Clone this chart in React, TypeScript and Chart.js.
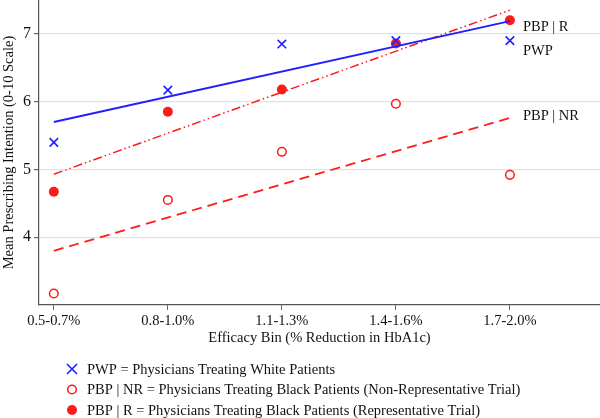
import React, { useEffect, useRef } from 'react';
import { Chart, registerables } from 'chart.js';

Chart.register(...registerables);

const bins = ['0.5-0.7%', '0.8-1.0%', '1.1-1.3%', '1.4-1.6%', '1.7-2.0%'];
const pwp = [5.4, 6.17, 6.85, 6.9, 6.9];
const pbpNR = [3.17, 4.55, 5.26, 5.97, 4.92];
const pbpR = [4.67, 5.85, 6.18, 6.86, 7.2];
// fitted line ends (first bin, last bin)
const pwpFit = [5.7, 7.19];
const pbpNRFit = [3.8, 5.76];
const pbpRFit = [4.93, 7.35];
const yTicks = [4, 5, 6, 7];
const endLabels = [
  { text: 'PBP | R', y: 7.1 },
  { text: 'PWP', y: 6.75 },
  { text: 'PBP | NR', y: 5.78 },
];

const BLUE = '#1f1fff';
const RED = '#ff1a1a';
const FONT = "'Liberation Serif', 'Times New Roman', serif";

const toPts = (vals: number[]) => vals.map((v, i) => ({ x: i, y: v }));
const fitPts = (ends: number[]) => [
  { x: 0, y: ends[0] },
  { x: bins.length - 1, y: ends[1] },
];

function drawMarker(ctx: CanvasRenderingContext2D, kind: string, x: number, y: number) {
  ctx.save();
  ctx.lineWidth = 1.6;
  if (kind === 'cross') {
    ctx.strokeStyle = BLUE;
    ctx.beginPath();
    ctx.moveTo(x - 5, y - 5);
    ctx.lineTo(x + 5, y + 5);
    ctx.moveTo(x + 5, y - 5);
    ctx.lineTo(x - 5, y + 5);
    ctx.stroke();
  } else if (kind === 'open') {
    ctx.strokeStyle = RED;
    ctx.beginPath();
    ctx.arc(x, y, 4.3, 0, Math.PI * 2);
    ctx.stroke();
  } else {
    ctx.fillStyle = RED;
    ctx.beginPath();
    ctx.arc(x, y, 5, 0, Math.PI * 2);
    ctx.fill();
  }
  ctx.restore();
}

const legendItems = [
  { kind: 'cross', text: 'PWP = Physicians Treating White Patients' },
  { kind: 'open', text: 'PBP | NR = Physicians Treating Black Patients (Non-Representative Trial)' },
  { kind: 'filled', text: 'PBP | R = Physicians Treating Black Patients (Representative Trial)' },
];

const annotations = {
  id: 'annotations',
  afterDraw(chart: any) {
    const { ctx, scales } = chart;
    const xs = scales.x;
    const ys = scales.y;
    ctx.save();
    ctx.font = `14.5px ${FONT}`;
    ctx.fillStyle = '#111';
    ctx.textBaseline = 'middle';
    ctx.textAlign = 'left';
    const lx = xs.getPixelForValue(bins.length - 1) + 13;
    endLabels.forEach((l) => ctx.fillText(l.text, lx, ys.getPixelForValue(l.y)));

    ctx.font = `14.5px ${FONT}`;
    legendItems.forEach((item, i) => {
      const y = 369 + i * 20.5;
      drawMarker(ctx, item.kind, 72, y);
      ctx.fillStyle = '#111';
      ctx.fillText(item.text, 87, y + 1);
    });
    ctx.restore();
  },
};

const noPad = (scale: any) => {
  scale.paddingTop = 0;
  scale.paddingBottom = 0;
  scale.paddingLeft = 0;
  scale.paddingRight = 0;
};

const App: React.FC = () => {
  const canvasRef = useRef<HTMLCanvasElement>(null);
  const chartRef = useRef<Chart>();

  useEffect(() => {
    if (!canvasRef.current) return;
    const ctx = canvasRef.current.getContext('2d');
    if (!ctx) return;

    chartRef.current = new Chart(ctx, {
      type: 'scatter',
      data: {
        datasets: [
          {
            label: 'PWP fit',
            data: fitPts(pwpFit),
            showLine: true,
            borderColor: BLUE,
            borderWidth: 1.8,
            pointRadius: 0,
          },
          {
            label: 'PBP | NR fit',
            data: fitPts(pbpNRFit),
            showLine: true,
            borderColor: RED,
            borderWidth: 1.8,
            borderDash: [10, 6],
            pointRadius: 0,
          },
          {
            label: 'PBP | R fit',
            data: fitPts(pbpRFit),
            showLine: true,
            borderColor: RED,
            borderWidth: 1.5,
            borderDash: [9, 3, 1.5, 3, 1.5, 3],
            pointRadius: 0,
          },
          {
            label: 'PWP',
            data: toPts(pwp),
            pointStyle: 'crossRot',
            pointRadius: 6,
            pointBorderWidth: 1.6,
            borderColor: BLUE,
            backgroundColor: BLUE,
          },
          {
            label: 'PBP | NR',
            data: toPts(pbpNR),
            pointStyle: 'circle',
            pointRadius: 4.3,
            pointBorderWidth: 1.5,
            borderColor: RED,
            backgroundColor: 'rgba(255,255,255,0)',
          },
          {
            label: 'PBP | R',
            data: toPts(pbpR),
            pointStyle: 'circle',
            pointRadius: 5,
            pointBorderWidth: 0,
            borderColor: RED,
            backgroundColor: RED,
          },
        ],
      },
      options: {
        animation: false,
        responsive: false,
        layout: { autoPadding: false, padding: { top: 0, right: 0, left: 0, bottom: 71 } },
        plugins: {
          legend: { display: false },
          tooltip: { enabled: false },
        },
        scales: {
          x: {
            type: 'linear',
            min: -0.13,
            max: 4.79,
            afterBuildTicks: (scale: any) => {
              scale.ticks = bins.map((_, i) => ({ value: i }));
            },
            afterFit: (scale: any) => {
              scale.height = 42;
              noPad(scale);
            },
            ticks: {
              callback: (v: any) => bins[v as number] ?? '',
              color: '#111',
              font: { family: FONT, size: 14.5 },
              padding: 2,
              maxRotation: 0,
            },
            grid: { drawOnChartArea: false, drawTicks: true, tickLength: 5, color: '#666' },
            border: { color: '#555', width: 1.2 },
            title: {
              display: true,
              text: 'Efficacy Bin (% Reduction in HbA1c)',
              color: '#111',
              font: { family: FONT, size: 14.5 },
              padding: { top: 0, bottom: 0 },
            },
          },
          y: {
            min: 3.0,
            max: 7.5,
            afterBuildTicks: (scale: any) => {
              scale.ticks = yTicks.map((v) => ({ value: v }));
            },
            afterFit: (scale: any) => {
              scale.width = 39;
              noPad(scale);
            },
            ticks: {
              color: '#111',
              font: { family: FONT, size: 16 },
              padding: 3,
            },
            grid: { color: '#e2e2e2', lineWidth: 1.2, tickLength: 5, tickColor: '#666' },
            border: { color: '#555', width: 1.2 },
            title: {
              display: true,
              text: 'Mean Prescribing Intention (0-10 Scale)',
              color: '#111',
              font: { family: FONT, size: 14.5 },
              padding: { top: 0, bottom: 0 },
            },
          },
        },
      },
      plugins: [annotations],
    });

    return () => {
      if (chartRef.current) chartRef.current.destroy();
    };
  }, []);

  return (
    <div style={{ position: 'absolute', left: 0, top: 0, width: 600, height: 418, background: '#fff' }}>
      <canvas ref={canvasRef} width={600} height={418} />
    </div>
  );
};

export default App;
